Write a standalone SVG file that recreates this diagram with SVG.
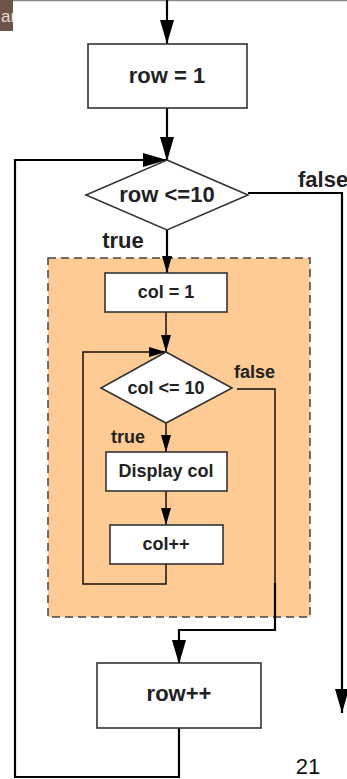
<svg xmlns="http://www.w3.org/2000/svg" width="347" height="779" viewBox="0 0 347 779">
<style>
.box{fill:#fff;stroke:#333;stroke-width:1.6}
.lbl{font-family:"Liberation Sans",Arial,sans-serif;font-weight:bold;fill:#222;text-anchor:middle}
.big{font-size:22px}
.sm{font-size:18px}
.w2{fill:none;stroke:#000;stroke-width:2.2}
.w1{fill:none;stroke:#111;stroke-width:1.5}
</style>
<defs>
<marker id="ab" markerUnits="userSpaceOnUse" markerWidth="24" markerHeight="14" refX="24" refY="7" orient="auto"><path d="M0,0 L24,7 L0,14 Z" fill="#000"/></marker>
<marker id="as" markerUnits="userSpaceOnUse" markerWidth="17" markerHeight="10" refX="17" refY="5" orient="auto"><path d="M0,0 L17,5 L0,10 Z" fill="#000"/></marker>
<clipPath id="cl"><rect x="0" y="0" width="13" height="31"/></clipPath>
</defs>
<rect x="0" y="0" width="347" height="779" fill="#fff"/>
<line x1="0" y1="0.5" x2="347" y2="0.5" stroke="#888" stroke-width="1.5"/>
<g id="tab">
<rect x="0" y="0" width="13" height="31" fill="#6e5448"/>
<text x="1" y="22" clip-path="url(#cl)" font-family="'Liberation Sans',Arial,sans-serif" font-size="17" fill="#e8dccf">ar</text>
</g>
<g id="inner-loop">
<rect x="48" y="258" width="262" height="359" fill="#fecb94" stroke="#444" stroke-width="1.5" stroke-dasharray="8,5"/>
</g>
<g id="connectors">
<line class="w2" x1="167" y1="0" x2="167" y2="44" marker-end="url(#ab)"/>
<line class="w2" x1="167" y1="108" x2="167" y2="161" marker-end="url(#ab)"/>
<polyline class="w2" points="179,728 179,777 15,777 15,160 167,160" marker-end="url(#ab)"/>
<polyline class="w2" points="248,193 342,193 342,713" marker-end="url(#ab)"/>
<line class="w2" x1="167" y1="230" x2="167" y2="273" marker-end="url(#as)"/>
<line class="w1" x1="166" y1="312" x2="166" y2="352" marker-end="url(#as)"/>
<polyline class="w1" points="166,564 166,584 83,584 83,352 166,352" marker-end="url(#as)"/>
<line class="w1" x1="166" y1="423" x2="166" y2="452" marker-end="url(#as)"/>
<line class="w1" x1="166" y1="491" x2="166" y2="525" marker-end="url(#as)"/>
<polyline class="w1" points="237,389 275,389 275,584"/>
<polyline class="w2" points="275,583 275,630 179,630 179,664" marker-end="url(#ab)"/>
</g>
<g id="n-row1">
<rect class="box" x="88" y="44" width="159" height="64"/>
<text class="lbl big" x="167" y="83">row = 1</text>
</g>
<g id="n-rowcond">
<polygon class="box" points="167,160 248,195 167,230 86,195"/>
<text class="lbl big" x="167" y="202">row &lt;=10</text>
<text class="lbl big" x="123" y="248">true</text>
<text class="lbl big" x="298" y="187" style="text-anchor:start">false</text>
</g>
<g id="n-col1">
<rect class="box" x="105" y="273" width="122" height="39"/>
<text class="lbl sm" x="166" y="298">col = 1</text>
</g>
<g id="n-colcond">
<polygon class="box" points="166,352 232,388 166,423 101,388"/>
<text class="lbl sm" x="166" y="394">col &lt;= 10</text>
<text class="lbl sm" x="128" y="443">true</text>
<text class="lbl sm" x="234" y="378" style="text-anchor:start">false</text>
</g>
<g id="n-display">
<rect class="box" x="106" y="452" width="121" height="39"/>
<text class="lbl sm" x="166" y="477">Display col</text>
</g>
<g id="n-colinc">
<rect class="box" x="110" y="525" width="113" height="39"/>
<text class="lbl sm" x="166" y="550">col++</text>
</g>
<g id="n-rowinc">
<rect class="box" x="97" y="663" width="164" height="65"/>
<text class="lbl big" x="179" y="701">row++</text>
</g>
<text x="308" y="774" font-family="'Liberation Sans',Arial,sans-serif" font-size="22" fill="#111" text-anchor="middle">21</text>
</svg>
